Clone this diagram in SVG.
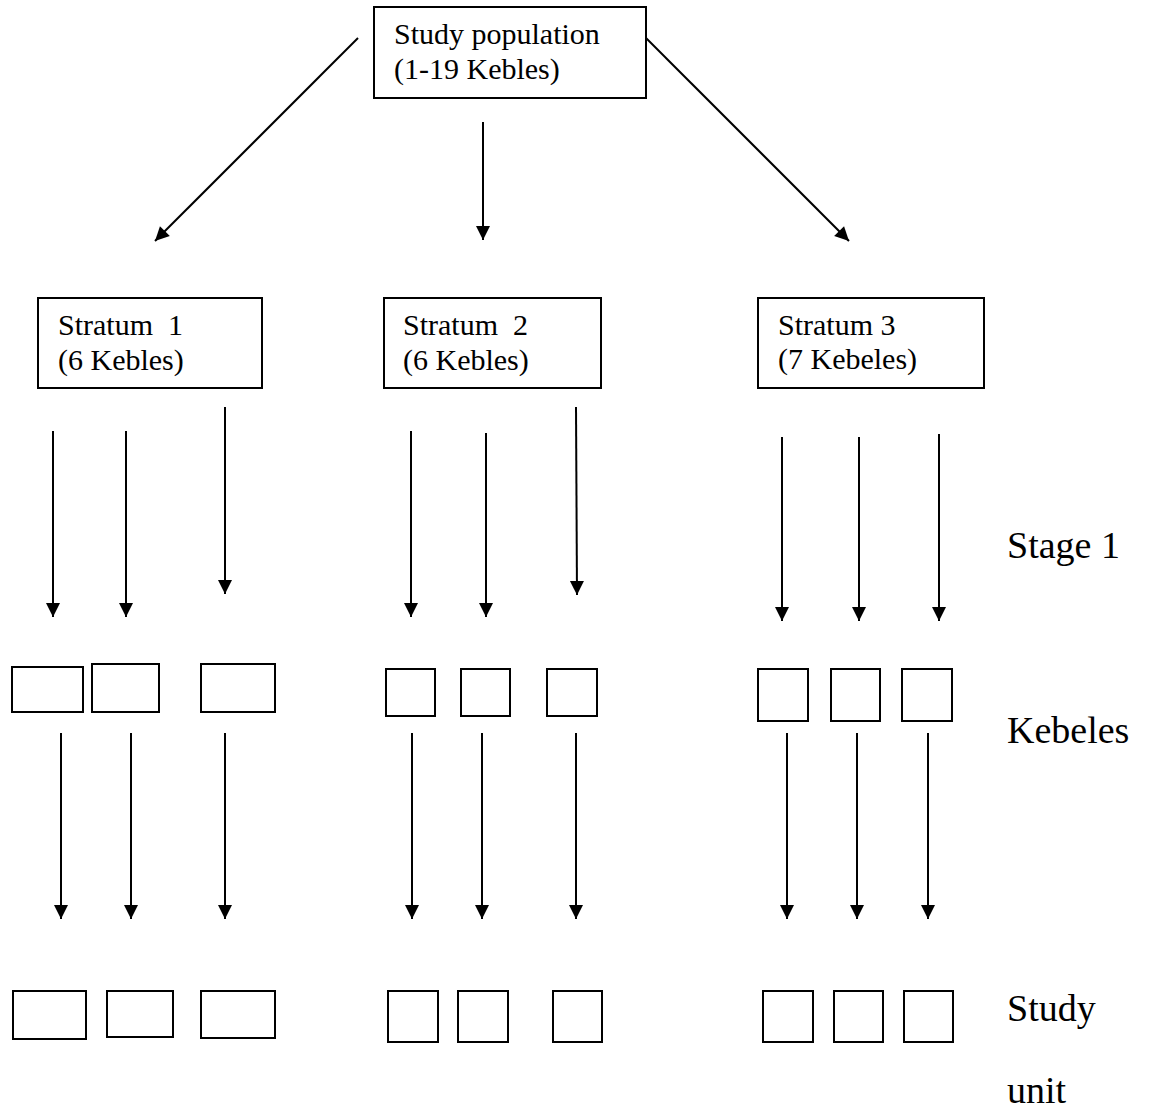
<svg xmlns="http://www.w3.org/2000/svg" width="1149" height="1120" viewBox="0 0 1149 1120">
<style>
.box{fill:#fff;stroke:#000;stroke-width:2}
.t{font-family:"Liberation Serif","Times New Roman",serif;font-size:30px;fill:#000}
.lbl{font-family:"Liberation Serif","Times New Roman",serif;font-size:38px;fill:#000}
.c{stroke:#000;stroke-width:2;fill:none;marker-end:url(#ah)}
</style>
<defs>
<marker id="ah" markerUnits="userSpaceOnUse" markerWidth="16" markerHeight="16" viewBox="0 0 16 16" refX="15" refY="8" orient="auto">
<path d="M1,1 L15,8 L1,15 Z" fill="#000"/>
</marker>
</defs>
<rect width="1149" height="1120" fill="#fff"/>
<g id="connectors">
<line class="c" x1="358" y1="38" x2="155" y2="241"/>
<line class="c" x1="483" y1="122" x2="483" y2="240"/>
<line class="c" x1="646" y1="38" x2="849" y2="241"/>
<line class="c" x1="53" y1="431" x2="53" y2="617"/>
<line class="c" x1="126" y1="431" x2="126" y2="617"/>
<line class="c" x1="225" y1="407" x2="225" y2="594"/>
<line class="c" x1="411" y1="431" x2="411" y2="617"/>
<line class="c" x1="486" y1="433" x2="486" y2="617"/>
<line class="c" x1="576" y1="407" x2="577" y2="595"/>
<line class="c" x1="782" y1="437" x2="782" y2="621"/>
<line class="c" x1="859" y1="437" x2="859" y2="621"/>
<line class="c" x1="939" y1="434" x2="939" y2="621"/>
<line class="c" x1="61" y1="733" x2="61" y2="919"/>
<line class="c" x1="131" y1="733" x2="131" y2="919"/>
<line class="c" x1="225" y1="733" x2="225" y2="919"/>
<line class="c" x1="412" y1="733" x2="412" y2="919"/>
<line class="c" x1="482" y1="733" x2="482" y2="919"/>
<line class="c" x1="576" y1="733" x2="576" y2="919"/>
<line class="c" x1="787" y1="733" x2="787" y2="919"/>
<line class="c" x1="857" y1="733" x2="857" y2="919"/>
<line class="c" x1="928" y1="733" x2="928" y2="919"/>
</g>
<g id="study-population">
<rect class="box" x="374" y="7" width="272" height="91"/>
<text class="t" x="394" y="44">Study population</text>
<text class="t" x="394" y="79">(1-19 Kebles)</text>
</g>
<g id="stratum1">
<rect class="box" x="38" y="298" width="224" height="90"/>
<text class="t" x="58" y="335" xml:space="preserve">Stratum  1</text>
<text class="t" x="58" y="370">(6 Kebles)</text>
</g>
<g id="stratum2">
<rect class="box" x="384" y="298" width="217" height="90"/>
<text class="t" x="403" y="335" xml:space="preserve">Stratum  2</text>
<text class="t" x="403" y="370">(6 Kebles)</text>
</g>
<g id="stratum3">
<rect class="box" x="758" y="298" width="226" height="90"/>
<text class="t" x="778" y="335">Stratum 3</text>
<text class="t" x="778" y="369">(7 Kebeles)</text>
</g>
<g id="kebele-1a"><rect class="box" x="12" y="667" width="71" height="45"/></g>
<g id="kebele-1b"><rect class="box" x="92" y="664" width="67" height="48"/></g>
<g id="kebele-1c"><rect class="box" x="201" y="664" width="74" height="48"/></g>
<g id="kebele-2a"><rect class="box" x="386" y="669" width="49" height="47"/></g>
<g id="kebele-2b"><rect class="box" x="461" y="669" width="49" height="47"/></g>
<g id="kebele-2c"><rect class="box" x="547" y="669" width="50" height="47"/></g>
<g id="kebele-3a"><rect class="box" x="758" y="669" width="50" height="52"/></g>
<g id="kebele-3b"><rect class="box" x="831" y="669" width="49" height="52"/></g>
<g id="kebele-3c"><rect class="box" x="902" y="669" width="50" height="52"/></g>
<g id="unit-1a"><rect class="box" x="13" y="991" width="73" height="48"/></g>
<g id="unit-1b"><rect class="box" x="107" y="991" width="66" height="46"/></g>
<g id="unit-1c"><rect class="box" x="201" y="991" width="74" height="47"/></g>
<g id="unit-2a"><rect class="box" x="388" y="991" width="50" height="51"/></g>
<g id="unit-2b"><rect class="box" x="458" y="991" width="50" height="51"/></g>
<g id="unit-2c"><rect class="box" x="553" y="991" width="49" height="51"/></g>
<g id="unit-3a"><rect class="box" x="763" y="991" width="50" height="51"/></g>
<g id="unit-3b"><rect class="box" x="834" y="991" width="49" height="51"/></g>
<g id="unit-3c"><rect class="box" x="904" y="991" width="49" height="51"/></g>
<g id="labels">
<text class="lbl" x="1007" y="558">Stage 1</text>
<text class="lbl" x="1007" y="743">Kebeles</text>
<text class="lbl" x="1007" y="1021">Study</text>
<text class="lbl" x="1007" y="1103">unit</text>
</g>
</svg>
